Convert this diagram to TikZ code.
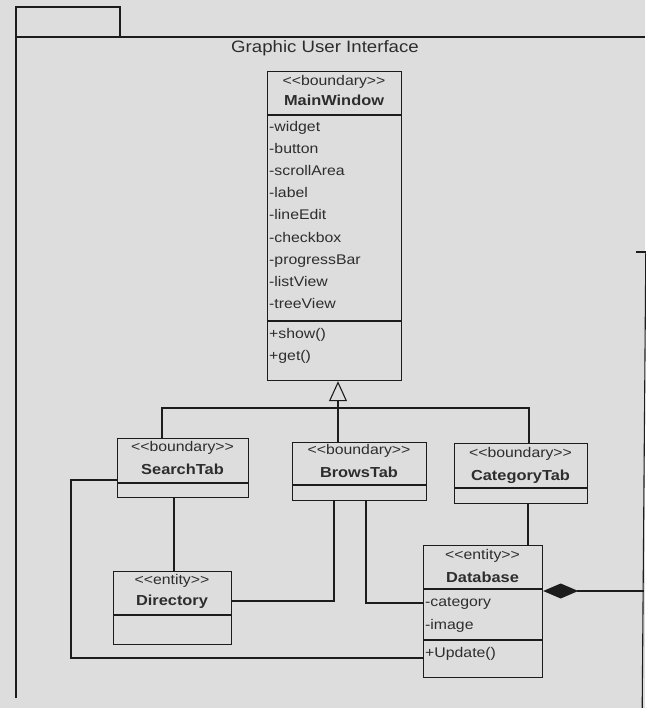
\documentclass[tikz,border=0pt]{standalone}
\usepackage{fontspec}
\setmainfont{Liberation Sans}[FakeStretch=1.13]
\usetikzlibrary{arrows.meta}
\definecolor{paper}{RGB}{221,221,221}
\definecolor{ink}{RGB}{28,28,28}
\definecolor{txt}{RGB}{45,45,45}
\newcommand{\stype}[1]{<{}<#1>{}>}
\begin{document}
\begin{tikzpicture}[x=1pt,y=-1pt,
  frame/.style={draw=ink, line width=1.2pt},
  cls/.style={frame, inner sep=0pt, anchor=north west},
  stereo/.style={inner sep=0pt, anchor=mid, text=txt, font=\fontsize{14}{16}\selectfont},
  cname/.style={inner sep=0pt, anchor=mid, text=txt, font=\fontsize{14.5}{16}\selectfont\bfseries},
  member/.style={inner sep=0pt, anchor=mid west, text=txt, font=\fontsize{14}{16}\selectfont},
  link/.style={draw=ink, line width=1.1pt},
  gen/.style={link, -{Triangle[open, length=20pt, width=18pt, fill=paper]}},
  comp/.style={link, {Diamond[length=35pt, width=15pt, fill=ink]}-},
]
% page and background
\fill[paper] (0,0) rectangle (645,708);
\useasboundingbox (0,0) rectangle (645,708);

% package frame
\draw[frame, line width=1.3pt] (16,7) rectangle (120,37);
\draw[frame, line width=1.3pt] (16,698) -- (16,37) -- (645,37);
\node[inner sep=0pt, text=txt, font=\fontsize{16.5}{18}\selectfont] (pkgname) at (325,48) {Graphic User Interface};

% MainWindow
\node[cls, minimum width=134pt, minimum height=309pt] (mw) at (267,71) {};
\draw[frame] ([yshift=-44pt]mw.north west) -- ([yshift=-44pt]mw.north east);
\draw[frame] ([yshift=-250pt]mw.north west) -- ([yshift=-250pt]mw.north east);
\node[stereo] (mws) at (334,83) {\stype{boundary}};
\node[cname] (mwn) at (334,103) {MainWindow};
\node[member] (mwa1) at (269,129) {-widget};
\node[member] (mwa2) at (269,151) {-button};
\node[member] (mwa3) at (269,173) {-scrollArea};
\node[member] (mwa4) at (269,195) {-label};
\node[member] (mwa5) at (269,217) {-lineEdit};
\node[member] (mwa6) at (269,240) {-checkbox};
\node[member] (mwa7) at (269,262) {-progressBar};
\node[member] (mwa8) at (269,284) {-listView};
\node[member] (mwa9) at (269,306) {-treeView};
\node[member] (mwo1) at (269,336) {+show()};
\node[member] (mwo2) at (269,358) {+get()};

% SearchTab
\node[cls, minimum width=131pt, minimum height=59pt] (st) at (117,438) {};
\draw[frame] ([yshift=-45pt]st.north west) -- ([yshift=-45pt]st.north east);
\node[stereo] (sts) at (182.5,449) {\stype{boundary}};
\node[cname] (stn) at (182.5,472) {SearchTab};

% BrowsTab
\node[cls, minimum width=134pt, minimum height=58pt] (bt) at (292,442) {};
\draw[frame] ([yshift=-43pt]bt.north west) -- ([yshift=-43pt]bt.north east);
\node[stereo] (bts) at (359,452) {\stype{boundary}};
\node[cname] (btn) at (359,475) {BrowsTab};

% CategoryTab
\node[cls, minimum width=133pt, minimum height=60pt] (ct) at (454,443) {};
\draw[frame] ([yshift=-45pt]ct.north west) -- ([yshift=-45pt]ct.north east);
\node[stereo] (cts) at (520.5,455) {\stype{boundary}};
\node[cname] (ctn) at (520.5,478) {CategoryTab};

% Directory
\node[cls, minimum width=118pt, minimum height=73pt] (dir) at (113,571) {};
\draw[frame] ([yshift=-44pt]dir.north west) -- ([yshift=-44pt]dir.north east);
\node[stereo] (dirs) at (172,582) {\stype{entity}};
\node[cname] (dirn) at (172,603) {Directory};

% Database
\node[cls, minimum width=119pt, minimum height=132pt] (db) at (423,545) {};
\draw[frame] ([yshift=-44pt]db.north west) -- ([yshift=-44pt]db.north east);
\draw[frame] ([yshift=-95pt]db.north west) -- ([yshift=-95pt]db.north east);
\node[stereo] (dbs) at (482.5,557) {\stype{entity}};
\node[cname] (dbn) at (482.5,580) {Database};
\node[member] (dba1) at (425,604) {-category};
\node[member] (dba2) at (425,627) {-image};
\node[member] (dbo1) at (425,655) {+Update()};

% generalisation tree
\coordinate (gx) at (338,408);
\coordinate (gl) at (162,408);
\coordinate (gr) at (529,408);
\draw[gen] (bt.north -| gx) -- (mw.south -| gx);
\draw[link] (st.north -| gl) -- (gl) -- (gr) -- (ct.north -| gr);

% associations
\coordinate (sa) at (174,520);
\draw[link] (st.south -| sa) -- (dir.north -| sa);

\coordinate (la) at (71,480);
\coordinate (lb) at (71,658);
\draw[link] (st.west |- la) -- (la) -- (lb) -- (db.west |- lb);

\coordinate (ba) at (334,601);
\draw[link] (dir.east |- ba) -- (ba) -- (bt.south -| ba);

\coordinate (bb) at (366,603);
\draw[link] (bt.south -| bb) -- (bb) -- (db.west |- bb);

\coordinate (ca) at (528,520);
\draw[link] (ct.south -| ca) -- (db.north -| ca);

% composition leaving the package towards the right
\coordinate (ra) at (643.5,591);
\coordinate (rt) at (645.8,252);
\coordinate (rb) at (642.2,708);
\coordinate (rk) at (636,252);
\draw[comp] (db.east |- ra) -- (ra);
\draw[link] (rt) -- (rb);
\draw[link] (rk) -- (rt);
\end{tikzpicture}
\end{document}
